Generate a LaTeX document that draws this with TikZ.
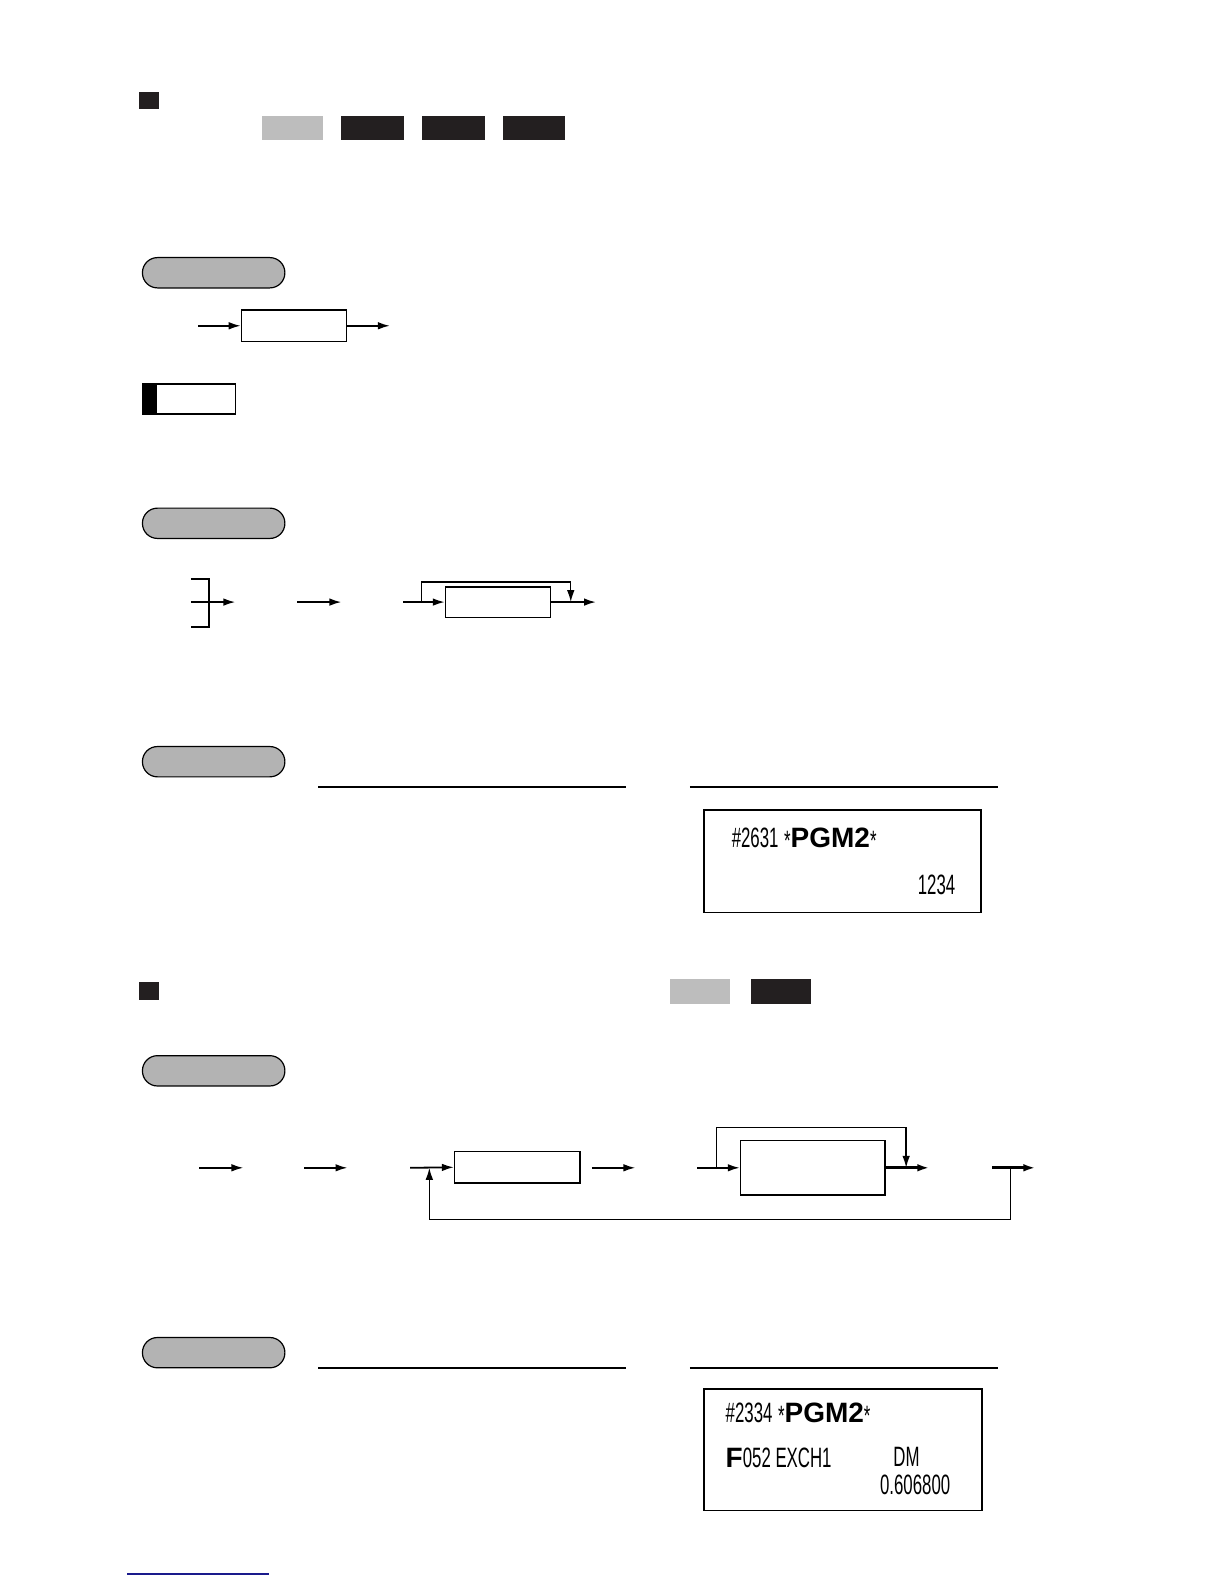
\documentclass[tikz,border=0pt]{standalone}
\usepackage{fontspec}
\setmainfont{Liberation Sans}
\usetikzlibrary{arrows.meta,fit}
\definecolor{keygray}{HTML}{BDBDBD}
\definecolor{keyblack}{HTML}{231F20}
\definecolor{pillgray}{HTML}{B3B3B3}
\definecolor{linkblue}{HTML}{1A1A8C}
\newcommand\rcpt[1]{\scalebox{0.6}[1]{\fontsize{14}{16}\selectfont #1}}
\newcommand\rbold[1]{{\fontsize{14}{16}\selectfont\bfseries #1}}
\newcommand\rast{\raisebox{-0.25ex}{\rcpt{*}}}
\begin{document}
\begin{tikzpicture}[x=0.50495pt,y=-0.50495pt,
  keyg/.style={fill=keygray,draw=none},
  keyb/.style={fill=keyblack,draw=none},
  sq/.style={fill=keyblack,draw=none},
  pill/.style={draw=black,line width=0.6pt,fill=pillgray,rounded corners=7.5pt},
  boxst/.style={draw=black,line width=0.7pt,inner sep=0pt,fill=white},
  arr/.style={line width=0.9pt,-{Latex[length=6pt,width=3.8pt]}},
  thinarr/.style={line width=0.7pt,-{Latex[length=6pt,width=3.8pt]}},
  thickarr/.style={line width=1.6pt,-{Latex[length=6pt,width=3.8pt]}},
  ln/.style={line width=0.7pt},
  rule/.style={line width=0.9pt}
]
\useasboundingbox (0,0) rectangle (1212,1568);
% ---- section 1 header
\fill[sq] (138,91) rectangle (157,108);
\fill[keyg] (259,115) rectangle (320,139);
\fill[keyb] (338,115) rectangle (400,139);
\fill[keyb] (418,115) rectangle (480,139);
\fill[keyb] (498,115) rectangle (559,139);
% ---- pill 1 and flow 1
\draw[pill] (141,255) rectangle (282,285);
\node[boxst,fit={(239,307) (343,338)}] (b1) {};
\coordinate (a1) at (196,322.5);
\coordinate (a2) at (386,322.5);
\draw[arr] (a1) -- (b1.west);
\draw[arr] (b1.east) -- (a2);
% ---- note box
\node[boxst,fit={(141,380) (233,410)}] (note) {};
\fill[black] (141,380) rectangle (155,410);
\draw[line width=0.7pt] (141,380) rectangle (233,410);
% ---- pill 2 and flow 2
\draw[pill] (141,503) rectangle (282,533);
\coordinate (br1) at (189,573);
\coordinate (br2) at (189,621);
\coordinate (br3) at (189,596);
\coordinate (br4) at (233,596);
\draw[line width=1pt] (br1) -- (207,573) -- (207,621) -- (br2);
\draw[arr] (br3) -- (br4);
\coordinate (c1) at (294,596);
\coordinate (c2) at (338,596);
\draw[arr] (c1) -- (c2);
\node[boxst,fit={(441,581) (545,611)}] (b2) {};
\coordinate (c3) at (399,596);
\coordinate (c4) at (417,596);
\coordinate (c5) at (565,596);
\coordinate (c6) at (590,596);
\draw[arr] (c3) -- (b2.west);
\draw[thinarr] (c4) |- (565,576) -- (c5);
\draw[arr] (b2.east) -- (c6);
% ---- pill 3 and print 1
\draw[pill] (141,739) rectangle (282,769);
\draw[rule] (315,779) -- (620,779);
\draw[rule] (683,779) -- (988,779);
\node[boxst,fit={(697,802) (971,903)}] (r1) {};
\node[anchor=base west,inner sep=0] (r1a) at (724,839) {\rcpt{\#2631} \rast\rbold{PGM2}\rast};
\node[anchor=base east,inner sep=0] (r1b) at (946,885) {\rcpt{1234}};
% ---- section 2 header
\fill[sq] (138,972) rectangle (157,990);
\fill[keyg] (663,969) rectangle (723,994);
\fill[keyb] (743,969) rectangle (803,994);
% ---- pill 4 and flow 3
\draw[pill] (141,1045) rectangle (282,1075);
\coordinate (d1) at (197,1156);
\coordinate (d2) at (241,1156);
\coordinate (d3) at (301,1156);
\coordinate (d4) at (344,1156);
\draw[arr] (d1) -- (d2);
\draw[arr] (d3) -- (d4);
\node[boxst,fit={(450,1140) (574,1171)}] (b3) {};
\node[boxst,fit={(733,1129) (876,1183)}] (b4) {};
\coordinate (d5) at (406,1156);
\coordinate (d6) at (586,1156);
\coordinate (d7) at (629,1156);
\coordinate (d8) at (690,1156);
\coordinate (d9) at (709,1156);
\coordinate (d10) at (897,1156);
\coordinate (d11) at (920,1156);
\coordinate (d12) at (982,1156);
\coordinate (d13) at (1025,1156);
\coordinate (d14) at (1000,1156);
\coordinate (d15) at (425,1156);
\draw[arr] (d5) -- (b3.west);
\draw[arr] (d6) -- (d7);
\draw[arr] (d8) -- (b4.west);
\draw[thinarr] (d9) |- (897,1116) -- (d10);
\draw[thickarr] (b4.east) -- (d11);
\draw[thickarr] (d12) -- (d13);
\draw[thinarr] (d14) |- (425,1207) -- (d15);
% ---- pill 5 and print 2
\draw[pill] (141,1324) rectangle (282,1354);
\draw[ln] (315,1354) -- (620,1354);
\draw[ln] (683,1354) -- (988,1354);
\node[boxst,fit={(697,1375) (972,1495)}] (r2) {};
\node[anchor=base west,inner sep=0] (r2a) at (718,1408) {\rcpt{\#2334} \rast\rbold{PGM2}\rast};
\node[anchor=base west,inner sep=0] (r2b) at (718,1453) {\rbold{F}\rcpt{052 EXCH1}};
\node[anchor=base west,inner sep=0] (r2c) at (884,1452) {\rcpt{DM}};
\node[anchor=base east,inner sep=0] (r2d) at (941,1479) {\rcpt{0.606800}};
% ---- link line at bottom
\draw[linkblue,line width=0.7pt] (126,1558) -- (266,1558);
\end{tikzpicture}
\end{document}
